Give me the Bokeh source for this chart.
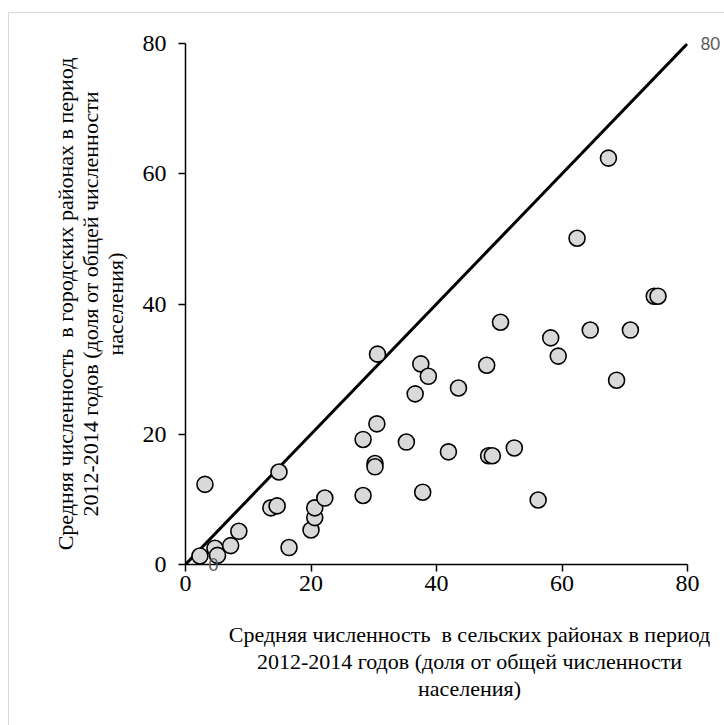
from bokeh.plotting import figure
from bokeh.models import FixedTicker, LinearAxis, Title
from bokeh.embed import file_html
from bokeh.resources import INLINE

# Rural share (x) and urban share (y), % of total population, 2012-2014
rural = [2.3, 3.1, 4.7, 5.1, 7.2, 8.5, 13.6, 14.6, 14.9, 16.5, 20.0, 20.6, 20.6, 22.2,
         30.6, 37.5, 38.7, 36.6, 43.5, 48.0, 50.2, 30.5, 28.3, 35.2, 30.2, 30.2, 41.9,
         48.3, 48.9, 52.4, 37.8, 56.2, 28.3, 67.4, 62.4, 74.7, 75.3, 64.5, 70.9, 58.2,
         59.4, 68.7]
urban = [1.3, 12.3, 2.5, 1.4, 2.9, 5.1, 8.7, 9.0, 14.2, 2.6, 5.3, 7.2, 8.7, 10.2,
         32.3, 30.8, 28.9, 26.2, 27.1, 30.6, 37.2, 21.6, 19.2, 18.8, 15.5, 15.0, 17.3,
         16.7, 16.7, 17.9, 11.1, 9.9, 10.6, 62.4, 50.1, 41.2, 41.2, 36.0, 36.0, 34.8,
         32.0, 28.3]

line_x = [0, 80]
line_y = [0, 80]
line_labels = ["0", "80"]
ticks = [0, 20, 40, 60, 80]

x_title_lines = ["Средняя численность\u00a0 в сельских районах в период",
                 "2012-2014 годов (доля от общей численности",
                 "населения)"]
y_title = "Средняя численность\u00a0 в городских районах в период\n2012-2014 годов (доля от общей численности\nнаселения)"

p = figure(width=716, height=713, output_backend="svg", toolbar_location=None,
           x_range=(0, 80), y_range=(0, 80),
           min_border_left=176, min_border_right=38, min_border_top=30, min_border_bottom=162,
           margin=(12, 0, 0, 8))
p.styles = {"border-top": "1px solid #d9d9d9", "border-left": "1px solid #d9d9d9"}
p.outline_line_color = None
p.grid.visible = False
p.background_fill_color = "white"
p.border_fill_color = "white"

for ax in (p.xaxis[0], p.yaxis[0]):
    ax.ticker = FixedTicker(ticks=ticks)
    ax.minor_tick_line_color = None
    ax.axis_line_color = "black"
    ax.axis_line_width = 1.5
    ax.major_tick_line_color = "black"
    ax.major_tick_line_width = 1.5
    ax.major_tick_in = 0
    ax.major_tick_out = 7
    ax.major_label_text_font = "Liberation Serif"
    ax.major_label_text_font_size = "24px"
    ax.major_label_text_color = "black"
    ax.axis_label_text_font = "Liberation Serif"
    ax.axis_label_text_font_size = "22px"
    ax.axis_label_text_font_style = "normal"
    ax.axis_label_text_color = "black"
    ax.axis_label_text_line_height = 1.0

p.yaxis[0].axis_label = y_title
p.yaxis[0].axis_label_standoff = 12
p.xaxis[0].major_label_standoff = 4
p.yaxis[0].major_label_standoff = 12

# padding is (left, right, top, bottom); left padding shifts the centred line right
for i, line in enumerate(x_title_lines):
    p.add_layout(Title(text=line, align="center", standoff=0,
                       padding=(66, 0, (26 if i == 0 else 0), 0),
                       text_font="Liberation Serif", text_font_size="22px",
                       text_font_style="normal", text_color="black",
                       text_line_height=1.0), "below")

p.line(line_x, line_y, line_color="black", line_width=3)
p.scatter(rural, urban, size=16, fill_color="#d9d9d9", line_color="black", line_width=1.6)


def label_axis(tick_value, text, standoff):
    a = LinearAxis(ticker=FixedTicker(ticks=[tick_value]),
                   major_label_overrides={tick_value: text},
                   axis_line_color=None, major_tick_line_color=None,
                   minor_tick_line_color=None, major_tick_in=0, major_tick_out=0,
                   major_label_standoff=standoff,
                   major_label_text_font="Lato", major_label_text_font_size="17px",
                   major_label_text_color="#595959")
    return a


# "80" at the end of the diagonal, "0" at its start
p.add_layout(label_axis(line_y[1], line_labels[1], 13), "right")
p.add_layout(label_axis(line_y[0], line_labels[0], -515), "right")

open("out.html", "w").write(file_html(p, INLINE))
